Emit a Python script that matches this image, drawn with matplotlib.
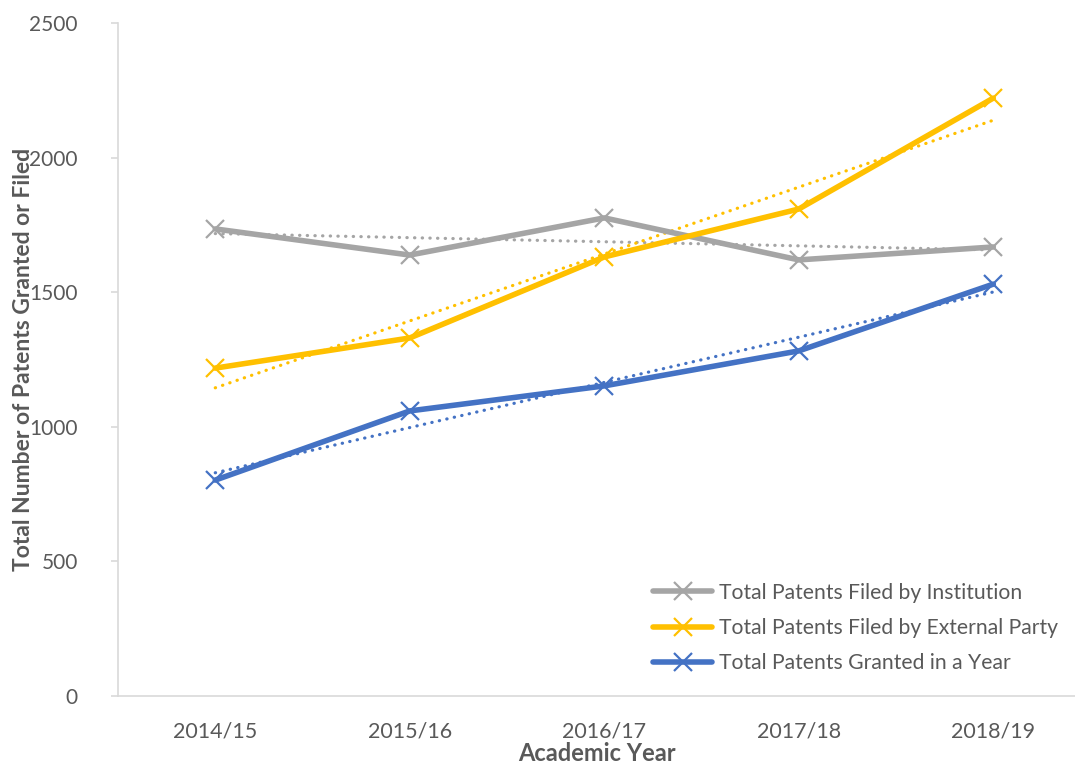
import matplotlib
matplotlib.use("Agg")
import matplotlib.pyplot as plt
import numpy as np

years = ["2014/15", "2015/16", "2016/17", "2017/18", "2018/19"]
institution = [1735, 1638, 1776, 1620, 1668]
external = [1218, 1330, 1631, 1809, 2221]
granted = [802, 1059, 1152, 1282, 1530]

series = [
    ("Total Patents Filed by Institution", institution, "#A5A5A5"),
    ("Total Patents Filed by External Party", external, "#FFC000"),
    ("Total Patents Granted in a Year", granted, "#4472C4"),
]

plt.rcParams['font.family'] = ['Lato', 'DejaVu Sans']
fig = plt.figure(figsize=(10.75, 7.65), dpi=100)
ax = fig.add_axes([118/1075, 69/765, 1 - 118/1075, (696-23)/765])

x = np.arange(len(years))
for name, vals, col in series:
    ax.plot(x, vals, color=col, lw=4.0, marker='x', ms=13, mew=1.6,
            label=name, solid_capstyle='round', zorder=3)
    k, b = np.polyfit(x, vals, 1)
    ax.plot(x, k * x + b, color=col, lw=2.3, linestyle=(0, (0.1, 2.3)),
            dash_capstyle='round', zorder=2)

ax.set_xlim(-0.5, 4.42)
ax.set_ylim(0, 2500)
ax.set_yticks([0, 500, 1000, 1500, 2000, 2500])
ax.set_xticks(x)
ax.set_xticklabels(years)
for s in ['top', 'right']:
    ax.spines[s].set_visible(False)
for s in ['left', 'bottom']:
    ax.spines[s].set_color('#D9D9D9')
    ax.spines[s].set_linewidth(1.2)
ax.tick_params(axis='y', colors='#595959', labelsize=15, length=5, width=1.2, color='#D9D9D9', pad=24)
ax.tick_params(axis='x', colors='#595959', labelsize=15.5, length=0, pad=18)
ax.set_xlabel("Academic Year", fontsize=17, fontweight='bold', color='#595959', labelpad=1)
ax.set_ylabel("Total Number of Patents Granted or Filed", fontsize=16.5, fontweight='bold',
              color='#595959')
ax.yaxis.set_label_coords(-0.088, 0.5)

leg = ax.legend(loc='lower right', bbox_to_anchor=(0.995, 0.015), frameon=False, fontsize=15.2,
                labelcolor='#595959', handlelength=2.8, handletextpad=0.3, labelspacing=0.72,
                borderaxespad=0.2)
fig.savefig("out.png", dpi=100)
